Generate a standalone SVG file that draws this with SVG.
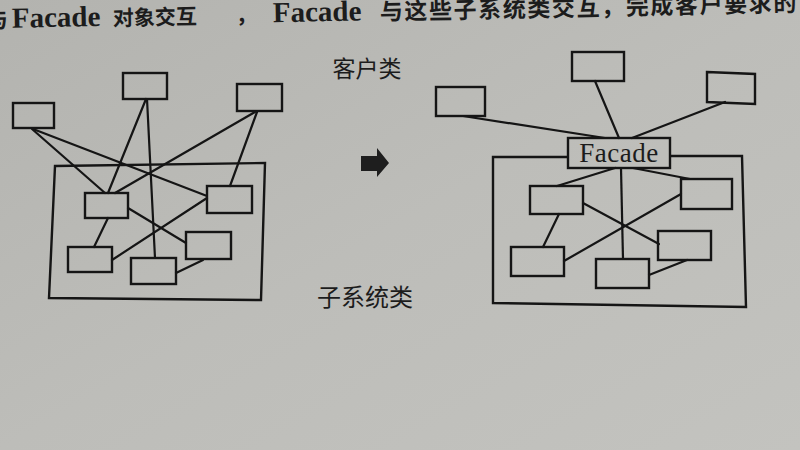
<svg xmlns="http://www.w3.org/2000/svg" width="800" height="450" viewBox="0 0 800 450">
  <defs>
    <linearGradient id="paper" x1="0" y1="0" x2="1" y2="1">
      <stop offset="0" stop-color="#b3b3af"/>
      <stop offset="0.5" stop-color="#bdbdb9"/>
      <stop offset="1" stop-color="#c3c3bf"/>
    </linearGradient>
  </defs>
  <style>
    .box { fill: none; stroke: #151515; stroke-width: 2.4; }
    .frame { fill: none; stroke: #151515; stroke-width: 2.4; stroke-linejoin: miter; }
    .link { stroke: #151515; stroke-width: 2.2; stroke-linecap: round; fill: none; }
    .cjk { font-family: "Noto Sans CJK SC", "Noto Sans CJK TC", sans-serif; fill: #1c1c1c; }
    .lat { font-family: "Liberation Serif", "DejaVu Serif", serif; fill: #1c1c1c; }
  </style>
  <rect width="800" height="450" fill="url(#paper)"/>

  <!-- top line of page text, clipped at the photo edge -->
  <g id="header-text" transform="rotate(-1.2 0 27)">
    <text x="-14" y="28" class="cjk" font-size="22" font-weight="bold">与</text>
    <text x="12" y="28" class="lat" font-size="29" font-weight="bold">Facade</text>
    <text x="113" y="28" class="cjk" font-size="21" font-weight="bold">对象交互</text>
    <text x="236" y="28" class="cjk" font-size="21" font-weight="bold">，</text>
    <text x="273" y="28" class="lat" font-size="29" font-weight="bold">Facade</text>
    <text x="380" y="28" class="cjk" font-size="23" font-weight="bold" letter-spacing="1.6">与这些子系统类交互，完成客户要求的</text>
  </g>

  <!-- labels -->
  <g id="label-client"><text x="367" y="77" class="cjk" font-size="23" text-anchor="middle">客户类</text></g>
  <g id="label-subsystem"><text x="365" y="306" class="cjk" font-size="24" text-anchor="middle">子系统类</text></g>

  <!-- transition arrow -->
  <g id="arrow">
    <polygon points="361,156 377,156 377,148 389,163 377,177 377,171 361,171" fill="#1e1e1e"/>
  </g>

  <!-- connectors -->
  <g id="connectors">
    <!-- left diagram -->
    <line class="link" x1="32" y1="129" x2="105" y2="193"/>
    <line class="link" x1="33" y1="129" x2="207" y2="196"/>
    <line class="link" x1="146" y1="99" x2="108" y2="193"/>
    <line class="link" x1="147" y1="99" x2="155" y2="258"/>
    <line class="link" x1="255" y1="112" x2="115" y2="193"/>
    <line class="link" x1="257" y1="112" x2="230" y2="186"/>
    <line class="link" x1="128" y1="208" x2="186" y2="243"/>
    <line class="link" x1="108" y1="218" x2="94" y2="247"/>
    <line class="link" x1="207" y1="198" x2="112" y2="260"/>
    <line class="link" x1="203" y1="260" x2="176" y2="273"/>
    <!-- right diagram -->
    <line class="link" x1="463" y1="116" x2="605" y2="138"/>
    <line class="link" x1="595" y1="81" x2="619" y2="138"/>
    <line class="link" x1="725" y1="102" x2="632" y2="138"/>
    <line class="link" x1="615" y1="168" x2="557" y2="186"/>
    <line class="link" x1="633" y1="168" x2="690" y2="179"/>
    <line class="link" x1="621" y1="168" x2="623" y2="259"/>
    <line class="link" x1="583" y1="203" x2="659" y2="244"/>
    <line class="link" x1="681" y1="194" x2="564" y2="261"/>
    <line class="link" x1="559" y1="214" x2="543" y2="247"/>
    <line class="link" x1="687" y1="260" x2="649" y2="275"/>
  </g>

  <!-- left diagram -->
  <g id="left-subsystem-frame"><polygon class="frame" points="55,166 265,163 261,300 49,298"/></g>
  <g id="left-client-1"><rect class="box" x="13" y="103" width="41" height="25"/></g>
  <g id="left-client-2"><rect class="box" x="123" y="73" width="44" height="26"/></g>
  <g id="left-client-3"><rect class="box" x="237" y="84" width="45" height="27"/></g>
  <g id="left-sub-a"><rect class="box" x="85" y="193" width="43" height="25"/></g>
  <g id="left-sub-b"><rect class="box" x="207" y="186" width="45" height="27"/></g>
  <g id="left-sub-c"><rect class="box" x="68" y="247" width="44" height="25"/></g>
  <g id="left-sub-d"><rect class="box" x="131" y="258" width="45" height="26"/></g>
  <g id="left-sub-e"><rect class="box" x="186" y="232" width="45" height="27"/></g>

  <!-- right diagram -->
  <g id="right-subsystem-frame"><polyline class="frame" points="568,157 493,157 493,303 746,307 742,156 670,156"/></g>
  <g id="right-client-1"><rect class="box" x="436" y="87" width="49" height="29"/></g>
  <g id="right-client-2"><rect class="box" x="572" y="52" width="52" height="29"/></g>
  <g id="right-client-3"><polygon class="box" points="707,72 755,74 755,104 707,102"/></g>
  <g id="facade">
    <rect class="box" x="568" y="138" width="102" height="30"/>
    <text x="619" y="162" class="lat" font-size="27" text-anchor="middle" letter-spacing="0.5">Facade</text>
  </g>
  <g id="right-sub-a"><rect class="box" x="530" y="186" width="53" height="28"/></g>
  <g id="right-sub-b"><rect class="box" x="681" y="179" width="51" height="30"/></g>
  <g id="right-sub-c"><rect class="box" x="511" y="247" width="53" height="29"/></g>
  <g id="right-sub-d"><rect class="box" x="596" y="259" width="53" height="29"/></g>
  <g id="right-sub-e"><rect class="box" x="658" y="231" width="53" height="29"/></g>
</svg>
